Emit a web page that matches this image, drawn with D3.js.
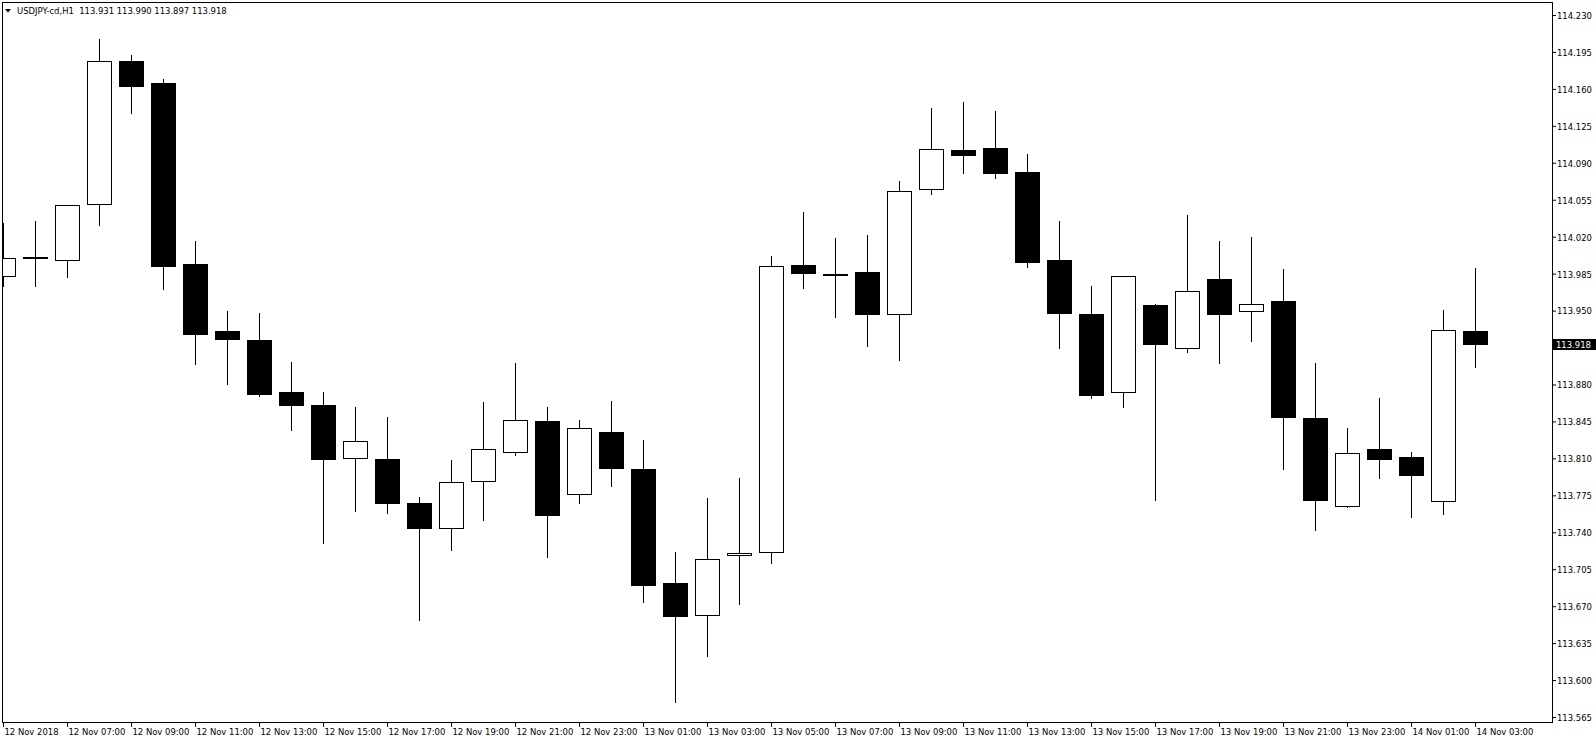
<!DOCTYPE html>
<html>
<head>
<meta charset="utf-8">
<script src="https://cdn.jsdelivr.net/npm/d3@7/dist/d3.min.js"></script>
<style>
  html, body { margin: 0; padding: 0; background: #fff; }
  svg { display: block; }
  text { font-family: "DejaVu Sans Condensed", "DejaVu Sans", sans-serif; font-stretch: condensed; }
</style>
</head>
<body>
<svg id="chart" width="1596" height="744"></svg>
<script>
// ---- data ----
const times = [
  "2018-11-12T05:00","2018-11-12T06:00","2018-11-12T07:00","2018-11-12T08:00","2018-11-12T09:00",
  "2018-11-12T10:00","2018-11-12T11:00","2018-11-12T12:00","2018-11-12T13:00","2018-11-12T14:00",
  "2018-11-12T15:00","2018-11-12T16:00","2018-11-12T17:00","2018-11-12T18:00","2018-11-12T19:00",
  "2018-11-12T20:00","2018-11-12T21:00","2018-11-12T22:00","2018-11-12T23:00","2018-11-13T00:00",
  "2018-11-13T01:00","2018-11-13T02:00","2018-11-13T03:00","2018-11-13T04:00","2018-11-13T05:00",
  "2018-11-13T06:00","2018-11-13T07:00","2018-11-13T08:00","2018-11-13T09:00","2018-11-13T10:00",
  "2018-11-13T11:00","2018-11-13T12:00","2018-11-13T13:00","2018-11-13T14:00","2018-11-13T15:00",
  "2018-11-13T16:00","2018-11-13T17:00","2018-11-13T18:00","2018-11-13T19:00","2018-11-13T20:00",
  "2018-11-13T21:00","2018-11-13T22:00","2018-11-13T23:00","2018-11-14T00:00","2018-11-14T01:00",
  "2018-11-14T02:00","2018-11-14T03:00"
];
const openP  = [113.983,114.001,113.998,114.051,114.186,114.166,113.994,113.931,113.922,113.873,
                113.861,113.810,113.809,113.768,113.744,113.789,113.816,113.845,113.776,113.835,
                113.800,113.692,113.662,113.718,113.721,113.993,113.985,113.987,113.947,114.065,
                114.102,114.104,114.081,113.998,113.947,113.873,113.955,113.915,113.980,113.950,
                113.959,113.848,113.765,113.819,113.811,113.770,113.931];
const highP  = [114.033,114.035,114.050,114.207,114.192,114.169,114.016,113.950,113.948,113.901,
                113.873,113.859,113.849,113.773,113.808,113.863,113.900,113.859,113.846,113.864,
                113.827,113.721,113.772,113.791,114.002,114.043,114.019,114.022,114.073,114.142,
                114.148,114.139,114.098,114.035,113.973,113.983,113.956,114.041,114.016,114.020,
                113.989,113.900,113.839,113.867,113.816,113.951,113.990];
const lowP   = [113.973,113.973,113.982,114.031,114.137,113.970,113.899,113.880,113.869,113.837,
                113.730,113.760,113.758,113.657,113.723,113.752,113.813,113.717,113.768,113.784,
                113.674,113.579,113.623,113.672,113.711,113.971,113.944,113.916,113.903,114.060,
                114.080,114.076,113.991,113.915,113.867,113.859,113.771,113.911,113.900,113.921,
                113.800,113.742,113.764,113.791,113.754,113.757,113.897];
const closeP = [114.000,114.000,114.050,114.186,114.163,113.992,113.928,113.923,113.871,113.861,
                113.809,113.826,113.768,113.744,113.788,113.819,113.846,113.756,113.839,113.801,
                113.690,113.661,113.715,113.720,113.992,113.986,113.985,113.947,114.063,114.103,
                114.097,114.080,113.996,113.948,113.870,113.983,113.918,113.969,113.947,113.956,
                113.849,113.771,113.815,113.809,113.794,113.932,113.918];
const priceTicks = [113.565,113.600,113.635,113.670,113.705,113.740,113.775,113.810,113.845,113.880,
                    113.915,113.950,113.985,114.020,114.055,114.090,114.125,114.160,114.195,114.230];
const timeTickIdx = [0,2,4,6,8,10,12,14,16,18,20,22,24,26,28,30,32,34,36,38,40,42,44,46];
const timeTickLabels = ["12 Nov 2018","12 Nov 07:00","12 Nov 09:00","12 Nov 11:00","12 Nov 13:00",
  "12 Nov 15:00","12 Nov 17:00","12 Nov 19:00","12 Nov 21:00","12 Nov 23:00","13 Nov 01:00",
  "13 Nov 03:00","13 Nov 05:00","13 Nov 07:00","13 Nov 09:00","13 Nov 11:00","13 Nov 13:00",
  "13 Nov 15:00","13 Nov 17:00","13 Nov 19:00","13 Nov 21:00","13 Nov 23:00","14 Nov 01:00",
  "14 Nov 03:00"];
const symbolTitle = "USDJPY-cd,H1";
const lastPrice = 113.918;

// ---- layout ----
const FS = 9.4;
const svg = d3.select("#chart");
const frame = {l: 2, t: 2, r: 1552, b: 722};
const dates = times.map(t => new Date(t + ":00Z"));

const x = d3.scaleTime()
  .domain([dates[0], dates[dates.length - 1]])
  .range([3, 3 + 32 * (dates.length - 1)]);
const y = d3.scaleLinear().domain([113.565, 114.230]).range([717, 15]);

svg.append("rect").attr("width", 1596).attr("height", 744).attr("fill", "#fff");

svg.append("defs").append("clipPath").attr("id", "plotclip")
  .append("rect").attr("x", frame.l + 1).attr("y", frame.t + 1)
  .attr("width", frame.r - frame.l - 1).attr("height", frame.b - frame.t - 1);

const candles = dates.map((d, i) => ({d, o: openP[i], h: highP[i], l: lowP[i], c: closeP[i]}));

const plot = svg.append("g").attr("clip-path", "url(#plotclip)");
const cg = plot.selectAll("g.candle").data(candles).join("g").attr("class", "candle");

cg.append("line")
  .attr("x1", d => Math.round(x(d.d)) + 0.5)
  .attr("x2", d => Math.round(x(d.d)) + 0.5)
  .attr("y1", d => Math.round(y(d.h)))
  .attr("y2", d => Math.round(y(d.l)) + 1)
  .attr("stroke", "#000").attr("stroke-width", 1);

cg.append("rect")
  .attr("x", d => Math.round(x(d.d)) - 12 + 0.5)
  .attr("width", 24)
  .attr("y", d => Math.round(y(Math.max(d.o, d.c))) + 0.5)
  .attr("height", d => Math.max(1, Math.round(y(Math.min(d.o, d.c))) - Math.round(y(Math.max(d.o, d.c)))))
  .attr("fill", d => d.c < d.o ? "#000" : "#fff")
  .attr("stroke", "#000").attr("stroke-width", 1);

// frame
svg.append("rect")
  .attr("x", frame.l + 0.5).attr("y", frame.t + 0.5)
  .attr("width", frame.r - frame.l).attr("height", frame.b - frame.t)
  .attr("fill", "none").attr("stroke", "#000").attr("stroke-width", 1);

// price axis (labels hidden beneath the current-price tag are not drawn, as in the terminal)
const tagY = y(lastPrice);
const yAxis = svg.append("g")
  .attr("transform", `translate(${frame.r + 1},0)`)
  .call(d3.axisRight(y).tickValues(priceTicks).tickSize(3).tickPadding(1)
        .tickFormat(v => Math.abs(y(v) - tagY) < 10 ? "" : v.toFixed(3)));
yAxis.select(".domain").remove();
yAxis.selectAll("line").attr("stroke", "#000");
yAxis.selectAll("text").attr("font-size", FS).attr("fill", "#000")
  .attr("font-family", null).attr("dy", "0.36em");
yAxis.attr("font-family", null).attr("font-size", null);

// time axis
const tickDates = timeTickIdx.map(i => dates[i]);
const xAxis = svg.append("g")
  .attr("transform", `translate(0,${frame.b + 1})`)
  .call(d3.axisBottom(x).tickValues(tickDates).tickSize(4)
        .tickFormat((d, i) => timeTickLabels[i]));
xAxis.select(".domain").remove();
xAxis.selectAll("line").attr("stroke", "#000");
xAxis.selectAll("text").attr("font-size", FS).attr("fill", "#000")
  .attr("text-anchor", "start").attr("x", 1).attr("y", 12.3).attr("dy", 0);
xAxis.attr("font-family", null).attr("font-size", null);

// current price tag
svg.append("rect")
  .attr("x", frame.r + 1).attr("y", Math.round(tagY) - 5)
  .attr("width", 1596 - frame.r - 1).attr("height", 11).attr("fill", "#000");
svg.append("text")
  .attr("x", frame.r + 4).attr("y", tagY).attr("dy", "0.36em")
  .attr("font-size", FS).attr("fill", "#fff").text(lastPrice.toFixed(3));

// title
svg.append("path").attr("d", "M5,9L11,9L8,12.5Z").attr("fill", "#000");
svg.append("text")
  .attr("x", 17).attr("y", 14).attr("font-size", FS).attr("fill", "#000")
  .attr("xml:space", "preserve").style("white-space", "pre")
  .text(`${symbolTitle}  ${openP[46].toFixed(3)} ${highP[46].toFixed(3)} ${lowP[46].toFixed(3)} ${closeP[46].toFixed(3)}`);
</script>
</body>
</html>
